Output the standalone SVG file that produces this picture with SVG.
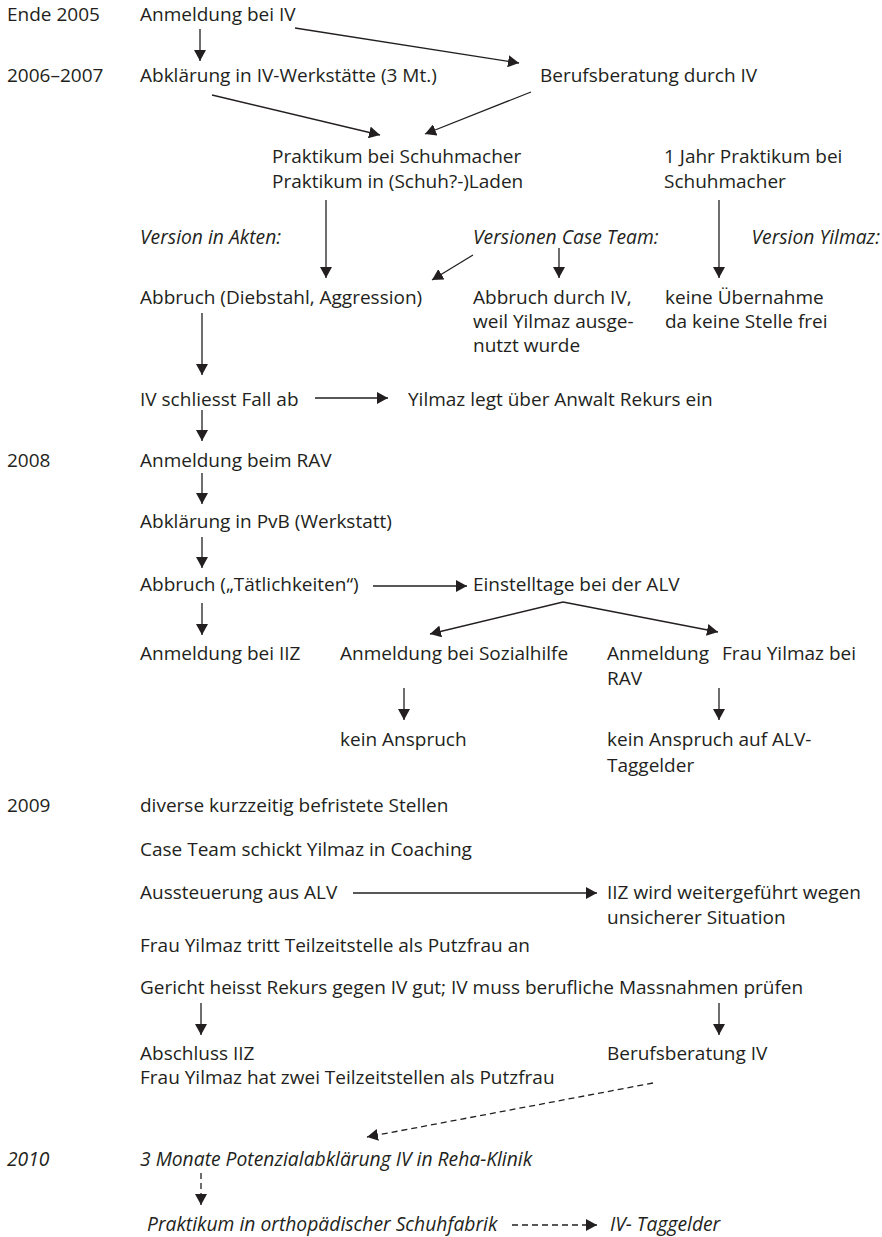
<svg xmlns="http://www.w3.org/2000/svg" width="882" height="1237" viewBox="0 0 882 1237">
<style>
text{font-family:"Open Sans","Noto Sans","Liberation Sans",sans-serif;font-size:19px;fill:#231f20}
.it{font-style:italic;font-size:19.3px}
.c line{stroke:#231f20;stroke-width:1.3;fill:none}
.d{stroke-dasharray:6,4}
</style>
<defs>
<marker id="ah" viewBox="0 0 11 12" markerWidth="11" markerHeight="12" refX="11" refY="6" orient="auto" markerUnits="userSpaceOnUse">
<path d="M0,0 L11,6 L0,12 z" fill="#231f20"/>
</marker>
</defs>
<rect width="882" height="1237" fill="#fff"/>
<g id="years">
<text x="7" y="21">Ende 2005</text>
<text x="7" y="82">2006–2007</text>
<text x="7" y="467">2008</text>
<text x="7" y="812">2009</text>
<text x="7" y="1166" class="it">2010</text>
</g>
<g id="n1"><text x="140" y="21">Anmeldung bei IV</text></g>
<g id="n2"><text x="140" y="82">Abklärung in IV-Werkstätte (3 Mt.)</text></g>
<g id="n3"><text x="540" y="82">Berufsberatung durch IV</text></g>
<g id="n4"><text x="272" y="163">Praktikum bei Schuhmacher<tspan x="272" y="188">Praktikum in (Schuh?-)Laden</tspan></text></g>
<g id="n5"><text x="664" y="163">1 Jahr Praktikum bei<tspan x="664" y="188">Schuhmacher</tspan></text></g>
<g id="v1"><text x="140" y="244" class="it">Version in Akten:</text></g>
<g id="v2"><text x="473" y="244" class="it">Versionen Case Team:</text></g>
<g id="v3"><text x="880" y="244" class="it" text-anchor="end">Version Yilmaz:</text></g>
<g id="n6"><text x="140" y="304">Abbruch (Diebstahl, Aggression)</text></g>
<g id="n7"><text x="473" y="304">Abbruch durch IV,<tspan x="473" y="328">weil Yilmaz ausge-</tspan><tspan x="473" y="352">nutzt wurde</tspan></text></g>
<g id="n8"><text x="665" y="304">keine Übernahme<tspan x="665" y="328">da keine Stelle frei</tspan></text></g>
<g id="n9"><text x="140" y="406">IV schliesst Fall ab</text></g>
<g id="n10"><text x="408" y="406">Yilmaz legt über Anwalt Rekurs ein</text></g>
<g id="n11"><text x="140" y="467">Anmeldung beim RAV</text></g>
<g id="n12"><text x="140" y="528">Abklärung in PvB (Werkstatt)</text></g>
<g id="n13"><text x="140" y="591">Abbruch („Tätlichkeiten“)</text></g>
<g id="n14"><text x="473" y="591">Einstelltage bei der ALV</text></g>
<g id="n15"><text x="140" y="660">Anmeldung bei IIZ</text></g>
<g id="n16"><text x="340" y="660">Anmeldung bei Sozialhilfe</text></g>
<g id="n17"><text x="607" y="660">Anmeldung<tspan x="722" y="660">Frau Yilmaz bei</tspan><tspan x="607" y="685">RAV</tspan></text></g>
<g id="n18"><text x="340" y="746">kein Anspruch</text></g>
<g id="n19"><text x="607" y="746">kein Anspruch auf ALV-<tspan x="607" y="772">Taggelder</tspan></text></g>
<g id="n20"><text x="140" y="812">diverse kurzzeitig befristete Stellen</text></g>
<g id="n21"><text x="140" y="856">Case Team schickt Yilmaz in Coaching</text></g>
<g id="n22"><text x="140" y="899">Aussteuerung aus ALV</text></g>
<g id="n23"><text x="607" y="899">IIZ wird weitergeführt wegen<tspan x="607" y="924">unsicherer Situation</tspan></text></g>
<g id="n24"><text x="140" y="952">Frau Yilmaz tritt Teilzeitstelle als Putzfrau an</text></g>
<g id="n25"><text x="140" y="994">Gericht heisst Rekurs gegen IV gut; IV muss berufliche Massnahmen prüfen</text></g>
<g id="n26"><text x="140" y="1060">Abschluss IIZ<tspan x="140" y="1084">Frau Yilmaz hat zwei Teilzeitstellen als Putzfrau</tspan></text></g>
<g id="n27"><text x="607" y="1060">Berufsberatung IV</text></g>
<g id="n28"><text x="140" y="1166" class="it">3 Monate Potenzialabklärung IV in Reha-Klinik</text></g>
<g id="n29"><text x="147" y="1231" class="it">Praktikum in orthopädischer Schuhfabrik</text></g>
<g id="n30"><text x="610" y="1231" class="it">IV- Taggelder</text></g>
<g id="connectors" class="c">
<line x1="200" y1="29" x2="200" y2="61" marker-end="url(#ah)"/>
<line x1="295" y1="28" x2="519" y2="63" marker-end="url(#ah)"/>
<line x1="212" y1="95" x2="380" y2="135" marker-end="url(#ah)"/>
<line x1="531" y1="92" x2="425" y2="134" marker-end="url(#ah)"/>
<line x1="326" y1="200" x2="326" y2="278" marker-end="url(#ah)"/>
<line x1="473" y1="255" x2="432" y2="280" marker-end="url(#ah)"/>
<line x1="559" y1="248" x2="559" y2="278" marker-end="url(#ah)"/>
<line x1="719" y1="200" x2="719" y2="278" marker-end="url(#ah)"/>
<line x1="202" y1="313" x2="202" y2="375" marker-end="url(#ah)"/>
<line x1="315" y1="398" x2="388" y2="398" marker-end="url(#ah)"/>
<line x1="202" y1="410" x2="202" y2="441" marker-end="url(#ah)"/>
<line x1="202" y1="473" x2="202" y2="504" marker-end="url(#ah)"/>
<line x1="202" y1="537" x2="202" y2="568" marker-end="url(#ah)"/>
<line x1="373" y1="586" x2="467" y2="586" marker-end="url(#ah)"/>
<line x1="202" y1="603" x2="202" y2="635" marker-end="url(#ah)"/>
<line x1="563" y1="602" x2="430" y2="634" marker-end="url(#ah)"/>
<line x1="563" y1="602" x2="718" y2="632" marker-end="url(#ah)"/>
<line x1="404" y1="688" x2="404" y2="720" marker-end="url(#ah)"/>
<line x1="719" y1="688" x2="719" y2="720" marker-end="url(#ah)"/>
<line x1="353" y1="893" x2="597" y2="893" marker-end="url(#ah)"/>
<line x1="201" y1="1003" x2="201" y2="1035" marker-end="url(#ah)"/>
<line x1="719" y1="1003" x2="719" y2="1035" marker-end="url(#ah)"/>
<line class="d" x1="653" y1="1083" x2="367" y2="1137" marker-end="url(#ah)"/>
<line class="d" x1="201" y1="1173" x2="201" y2="1205" marker-end="url(#ah)"/>
<line class="d" x1="512" y1="1225" x2="597" y2="1225" marker-end="url(#ah)"/>
</g>
</svg>
